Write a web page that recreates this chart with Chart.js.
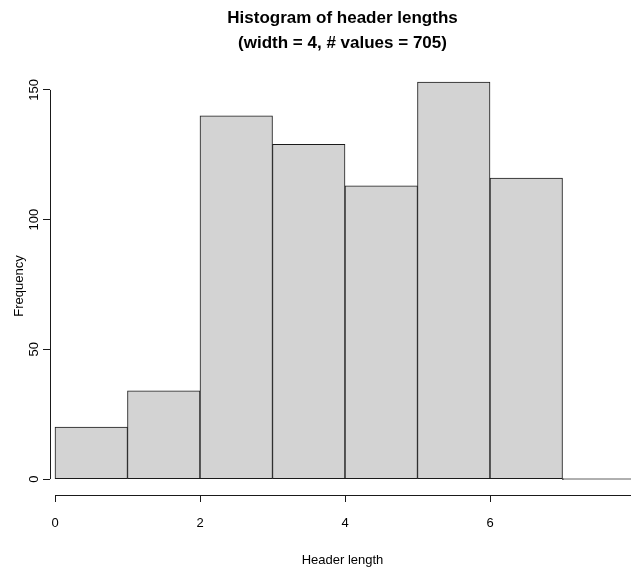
<!DOCTYPE html>
<html>
<head>
<meta charset="utf-8">
<script src="https://cdn.jsdelivr.net/npm/chart.js@4/dist/chart.umd.min.js"></script>
<style>
  html, body { margin: 0; padding: 0; background: #fff; overflow: hidden; }
  #wrap { width: 640px; height: 567px; }
  canvas { display: block; }
</style>
</head>
<body>
<div id="wrap"><canvas id="hist" width="640" height="567" style="width:640px;height:567px"></canvas></div>
<script>
// Histogram data: bins of width 1 from 0 to 8
const binStarts = [0, 1, 2, 3, 4, 5, 6, 7];
const counts = [20, 34, 140, 129, 113, 153, 116, 0];
const xTicks = [0, 2, 4, 6, 8];
const yTicks = [0, 50, 100, 150];
const titleLines = ['Histogram of header lengths', '(width = 4, # values = 705)'];

const FONT = "'Liberation Sans', Arial, sans-serif";

// R-style axis lines, only spanning first to last tick
const axisLines = {
    id: 'axisLines',
    afterDraw(chart) {
        const { ctx, chartArea, scales } = chart;
        ctx.save();
        ctx.strokeStyle = '#1a1a1a';
        ctx.lineWidth = 1;
        ctx.beginPath();
        const xl = Math.round(chartArea.left) + 0.5;
        ctx.moveTo(xl, scales.y.getPixelForValue(yTicks[0]));
        ctx.lineTo(xl, scales.y.getPixelForValue(yTicks[yTicks.length - 1]));
        const yb = Math.round(chartArea.bottom) + 0.5;
        ctx.moveTo(scales.x.getPixelForValue(xTicks[0]), yb);
        ctx.lineTo(scales.x.getPixelForValue(xTicks[xTicks.length - 1]), yb);
        ctx.stroke();
        ctx.restore();
    }
};

new Chart(document.getElementById('hist'), {
    type: 'bar',
    data: {
        datasets: [{
            data: binStarts.map((s, i) => ({ x: s + 0.5, y: counts[i] })),
            backgroundColor: '#d3d3d3',
            borderColor: '#1a1a1a',
            borderWidth: 1,
            borderSkipped: false,
            barPercentage: 1,
            categoryPercentage: 1,
            minBarLength: 1
        }]
    },
    options: {
        responsive: false,
        devicePixelRatio: 1,
        animation: false,
        layout: { padding: { right: 5 } },
        plugins: {
            legend: { display: false },
            tooltip: { enabled: false },
            title: {
                display: true,
                text: titleLines,
                fullSize: false,
                color: '#000',
                font: { family: FONT, size: 17, weight: 'bold', lineHeight: 1.47 },
                padding: { top: 6, bottom: 21 }
            }
        },
        scales: {
            x: {
                type: 'linear',
                offset: false,
                min: -5 / 72.5,
                max: 8,
                afterBuildTicks: s => { s.ticks = xTicks.map(v => ({ value: v })); },
                afterFit: s => { s.height = 72; s.paddingLeft = 0; s.paddingRight = 0; },
                grid: { offset: false, drawOnChartArea: false, drawTicks: true, tickLength: 7, color: '#1a1a1a' },
                border: { display: false },
                ticks: { color: '#000', font: { family: FONT, size: 13 }, padding: 14, maxRotation: 0 },
                title: {
                    display: true,
                    text: 'Header length',
                    color: '#000',
                    font: { family: FONT, size: 13 },
                    padding: { top: 0, bottom: -1 }
                }
            },
            y: {
                min: -6.15,
                max: 155,
                afterBuildTicks: s => { s.ticks = yTicks.map(v => ({ value: v })); },
                afterFit: s => { s.width = 50; },
                grid: { drawOnChartArea: false, drawTicks: true, tickLength: 7, color: '#1a1a1a' },
                border: { display: false },
                ticks: {
                    color: '#000', font: { family: FONT, size: 13 }, padding: -2,
                    minRotation: 90, maxRotation: 90, crossAlign: 'center'
                },
                title: {
                    display: true,
                    text: 'Frequency',
                    color: '#000',
                    font: { family: FONT, size: 13 },
                    padding: { top: 12, bottom: 0 }
                }
            }
        }
    },
    plugins: [axisLines]
});
</script>
</body>
</html>
